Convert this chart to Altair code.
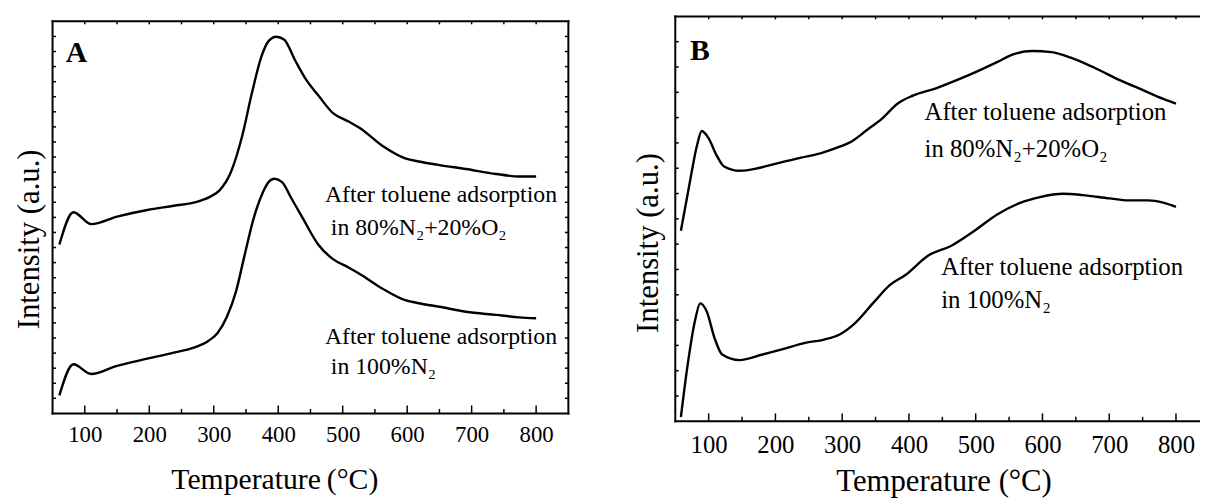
import altair as alt
import pandas as pd

FONT = "Liberation Serif"

# ---------------- Panel A (temperature in °C, intensity in a.u.) ----------------
A_top_T = [60.6, 82.4, 110, 150, 197, 238, 273.5, 294, 309, 326.5, 344, 359, 373.5, 385, 397,
           409, 426.5, 444, 462, 485, 509, 526.5, 562, 597, 620.6, 650, 691, 738, 773.5, 800]
A_top_I = [11.20, 13.34, 12.55, 13.05, 13.49, 13.77, 14.03, 14.36, 14.79, 15.99, 18.38, 21.21,
           23.61, 24.69, 24.98, 24.80, 23.39, 22.08, 21.10, 19.91, 19.36, 18.93, 17.73, 16.91,
           16.69, 16.47, 16.21, 15.88, 15.71, 15.71]
A_bot_T = [60.6, 82.4, 110, 150, 197, 238, 268, 291, 306, 320.6, 335, 347, 362, 376.5, 385, 394,
           406, 420.6, 438, 462, 485, 509, 526.5, 562, 597, 620.6, 650, 691, 738, 773.5, 800]
A_bot_I = [1.20, 3.26, 2.61, 3.15, 3.63, 4.03, 4.35, 4.79, 5.33, 6.42, 8.16, 10.33, 12.95, 14.69,
           15.34, 15.56, 15.34, 14.25, 12.95, 11.20, 10.23, 9.68, 9.25, 8.27, 7.51, 7.29, 7.07,
           6.74, 6.53, 6.37, 6.31]

# ---------------- Panel B ----------------
B_top_T = [58.4, 71.1, 82.7, 89.6, 100, 111.5, 123.1, 146.2, 175, 203.9, 238.5, 267.4, 296.2,
           313.5, 336.6, 359.7, 382.8, 405.9, 440.5, 475.1, 504, 532.8, 555.9, 584.8, 613.6,
           642.5, 677.1, 717.5, 752.1, 781, 800]
B_top_I = [7.53, 9.35, 10.92, 11.47, 11.18, 10.53, 10.07, 9.90, 10.01, 10.20, 10.42, 10.59, 10.85,
           11.05, 11.50, 11.96, 12.55, 12.87, 13.16, 13.52, 13.85, 14.20, 14.50, 14.63, 14.59,
           14.37, 13.98, 13.46, 13.07, 12.74, 12.55]
B_bot_T = [58.4, 68.3, 79.8, 87.3, 97.1, 108.7, 120.2, 146.2, 180.8, 209.6, 244.3, 273.1, 296.2,
           319.3, 348.2, 371.2, 394.3, 429, 463.6, 498.2, 532.8, 567.5, 596.3, 630.9, 659.8,
           700.2, 729, 757.9, 781, 800]
B_bot_I = [0.17, 2.19, 4.01, 4.66, 4.34, 3.30, 2.64, 2.42, 2.64, 2.84, 3.10, 3.23, 3.43, 3.88,
           4.73, 5.38, 5.77, 6.55, 6.94, 7.53, 8.18, 8.64, 8.86, 8.99, 8.94, 8.81, 8.73, 8.73,
           8.64, 8.47]

SERIES = ["After toluene adsorption in 80%N2+20%O2", "After toluene adsorption in 100%N2"]

# ticks and labels
X_MAJOR = [100, 200, 300, 400, 500, 600, 700, 800]
X_MINOR = [150, 250, 350, 450, 550, 650, 750]
A_Y_TICKS = list(range(1, 26))
B_Y_TICKS = list(range(1, 16))

NOTE_TEXT = ["After toluene adsorption", "in 80%N₂+20%O₂",
             "After toluene adsorption", "in 100%N₂"]
A_NOTE_T = [472.4, 481.6, 472.4, 481.6]
A_NOTE_I = [14.51, 12.28, 5.06, 3.09]
B_NOTE_T = [423.3, 423.3, 448.2, 448.2]
B_NOTE_I = [12.22, 10.77, 6.08, 4.79]


def panel(cfg):
    W, H = cfg["W"], cfg["H"]
    x0, x1 = cfg["xdom"]
    y0, y1 = cfg["ydom"]
    yf = cfg["yframe"]
    xs = alt.Scale(domain=[x0, x1], nice=False, zero=False)
    ys = alt.Scale(domain=[y0, y1], nice=False, zero=False)
    ppu = H / (y1 - y0)
    top_px = H - (yf - y0) * ppu

    curves = pd.DataFrame({
        "T": cfg["top_T"] + cfg["bot_T"],
        "I": cfg["top_I"] + cfg["bot_I"],
        "series": [SERIES[0]] * len(cfg["top_T"]) + [SERIES[1]] * len(cfg["bot_T"]),
    })

    x_axis = alt.Axis(
        values=X_MAJOR, format="d", ticks=False, tickSize=0, domain=False, grid=False,
        labels=True, labelFont=FONT, labelFontSize=cfg["lab_size"], labelColor="black",
        labelPadding=cfg["lab_pad"],
        title=cfg["xtitle"], titleFont=FONT, titleFontSize=cfg["xt_size"],
        titleFontWeight="normal", titleColor="black",
        titleX=cfg["xt_x"], titleY=cfg["xt_y"], titleAlign="center",
        titleBaseline="alphabetic")
    y_axis = alt.Axis(
        labels=False, ticks=False, tickSize=0, domain=False, grid=False,
        title="Intensity (a.u.)", titleFont=FONT, titleFontSize=31,
        titleFontWeight="normal", titleColor="black", titleAngle=270,
        titleX=cfg["yt_x"], titleY=cfg["yt_y"], titleAlign="center",
        titleBaseline="middle")

    lines = alt.Chart(curves).mark_line(
        color="black", strokeWidth=2.4, interpolate="monotone"
    ).encode(
        x=alt.X("T:Q", scale=xs, axis=x_axis),
        y=alt.Y("I:Q", scale=ys, axis=y_axis),
        detail="series:N",
    )

    # frame
    fr = [(x0, x1, y0, y0), (x0, x1, yf, yf), (x0, x0, y0, yf)]
    if cfg["right"]:
        fr.append((x1, x1, y0, yf))
    frame_df = pd.DataFrame(fr, columns=["T", "T2", "I", "I2"])
    frame = alt.Chart(frame_df).mark_rule(
        color="black", strokeWidth=2, strokeCap="square"
    ).encode(
        x=alt.X("T:Q", scale=xs, axis=x_axis), x2="T2:Q",
        y=alt.Y("I:Q", scale=ys, axis=y_axis), y2="I2:Q",
    )

    tick_style = dict(color="black", strokeWidth=1.5)
    major = alt.Chart(pd.DataFrame({"T": X_MAJOR})).mark_rule(**tick_style).encode(
        x=alt.X("T:Q", scale=xs, axis=x_axis), y=alt.value(H), y2=alt.value(H - 8))
    minor = alt.Chart(pd.DataFrame({"T": X_MINOR})).mark_rule(**tick_style).encode(
        x=alt.X("T:Q", scale=xs, axis=x_axis), y=alt.value(H), y2=alt.value(H - 4.5))
    top = alt.Chart(pd.DataFrame({"T": sorted(X_MAJOR + X_MINOR)})).mark_rule(**tick_style).encode(
        x=alt.X("T:Q", scale=xs, axis=x_axis), y=alt.value(top_px), y2=alt.value(top_px + 3))
    left = alt.Chart(pd.DataFrame({"I": cfg["yticks"]})).mark_rule(**tick_style).encode(
        y=alt.Y("I:Q", scale=ys, axis=y_axis), x=alt.value(0), x2=alt.value(3.5))
    layers = [frame, major, minor, top, left]
    if cfg["right"]:
        right = alt.Chart(pd.DataFrame({"I": cfg["yticks"]})).mark_rule(**tick_style).encode(
            y=alt.Y("I:Q", scale=ys, axis=y_axis), x=alt.value(W - 3.5), x2=alt.value(W))
        layers.append(right)

    notes_df = pd.DataFrame({"T": cfg["note_T"], "I": cfg["note_I"], "text": NOTE_TEXT})
    notes = alt.Chart(notes_df).mark_text(
        align="left", baseline="middle", font=FONT, fontSize=cfg["note_size"], color="black"
    ).encode(
        x=alt.X("T:Q", scale=xs, axis=x_axis), y=alt.Y("I:Q", scale=ys, axis=y_axis),
        text="text:N")

    letter_df = pd.DataFrame({"T": [cfg["let_T"]], "I": [cfg["let_I"]], "text": [cfg["letter"]]})
    letter = alt.Chart(letter_df).mark_text(
        align="left", baseline="middle", font=FONT, fontSize=30, fontWeight="bold", color="black"
    ).encode(
        x=alt.X("T:Q", scale=xs, axis=x_axis), y=alt.Y("I:Q", scale=ys, axis=y_axis),
        text="text:N")

    layers += [lines, notes, letter]
    return alt.layer(*layers).properties(width=W, height=H)


panel_a = panel(dict(
    W=521, H=401, xdom=(50, 850), ydom=(0, 26.33), yframe=26, right=True,
    top_T=A_top_T, top_I=A_top_I, bot_T=A_bot_T, bot_I=A_bot_I,
    lab_size=23, lab_pad=10.6, xtitle="Temperature\u2009(°C)", xt_size=30, xt_x=224, xt_y=76,
    yt_x=-23, yt_y=224.7, yticks=A_Y_TICKS,
    note_T=A_NOTE_T, note_I=A_NOTE_I, note_size=24, letter="A", let_T=70.4, let_I=23.9,
))

panel_b = panel(dict(
    W=529, H=409, xdom=(50, 834.5), ydom=(0, 16), yframe=16, right=False,
    top_T=B_top_T, top_I=B_top_I, bot_T=B_bot_T, bot_I=B_bot_I,
    lab_size=25, lab_pad=11.4, xtitle="Temperature (°C)", xt_size=31, xt_x=271, xt_y=70,
    yt_x=-26.9, yt_y=228.4, yticks=B_Y_TICKS,
    note_T=B_NOTE_T, note_I=B_NOTE_I, note_size=25, letter="B", let_T=72.2, let_I=14.64,
))

chart = alt.hconcat(panel_a, panel_b, spacing=63).properties(
    padding={"left": 6, "top": 4, "right": 0, "bottom": 0}
).configure(
    font=FONT
).configure_axis(
    labelFont=FONT, titleFont=FONT
).configure_text(
    font=FONT
).configure_view(stroke=None)

chart.save("out.html", embed_options={"renderer": "svg", "actions": False})
